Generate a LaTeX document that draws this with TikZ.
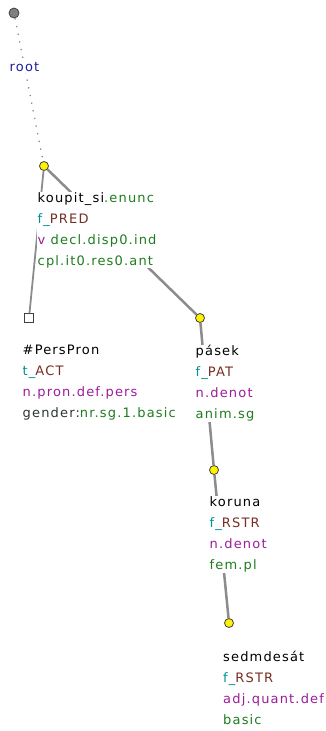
\documentclass[tikz,border=0pt]{standalone}
\usepackage{fontspec}
\setsansfont{DejaVu Sans}[LetterSpace=9]
\definecolor{rootc}{RGB}{30,30,160}
\definecolor{gramc}{RGB}{30,125,30}
\definecolor{tfac}{RGB}{0,145,145}
\definecolor{funcc}{RGB}{120,45,35}
\definecolor{posc}{RGB}{155,30,155}
\definecolor{attrc}{RGB}{45,55,45}
\definecolor{edgec}{RGB}{140,140,140}

\begin{document}
\begin{tikzpicture}[x=1pt, y=-1pt,
    tnode/.style={circle, draw=black!75, fill=yellow, minimum size=9, inner sep=0, line width=.8},
    lbl/.style={anchor=north west, align=left, fill=white, inner sep=.5,
        font=\sffamily\fontsize{13}{21}\selectfont},
    tedge/.style={draw=edgec, line width=2.5}]
    \useasboundingbox (0, 0) rectangle (326, 731);
    \def\tfa#1{\textcolor{tfac}{#1\_}}
    \def\fun#1{\textcolor{funcc}{#1}}

    % tree nodes
    \node[tnode, fill=black!50, minimum size=10] (root) at (14, 13) {};
    \node[tnode] (koupit) at (44, 166) {};
    \node[tnode, rectangle, fill=white, minimum size=9] (perspron) at (29, 318) {};
    \node[tnode] (pasek) at (200, 318) {};
    \node[tnode] (koruna) at (214, 470) {};
    \node[tnode] (sedmdesat) at (229, 623) {};

    % edges
    \draw[draw=edgec, line width=1.3, dash pattern=on 1.3 off 6.5] (root) -- (koupit);
    \draw[tedge, line width=1.8] (koupit) -- (perspron);
    \draw[tedge] (koupit) -- (pasek);
    \draw[tedge] (pasek) -- (koruna);
    \draw[tedge] (koruna) -- (sedmdesat);

    % labels
    \node[lbl] (root-t) at (9, 62) {\textcolor{rootc}{root}};
    \node[lbl] (koupit-t) at (37, 191.5) {koupit\_si\textcolor{gramc}{.enunc}\\
        \tfa{f}\fun{PRED}\\
        \textcolor{posc}{v} \textcolor{gramc}{decl.disp0.ind}\\
        \textcolor{gramc}{cpl.it0.res0.ant}};
    \node[lbl] (perspron-t) at (22, 344.5) {\#PersPron\\
        \tfa{t}\fun{ACT}\\
        \textcolor{posc}{n.pron.def.pers}\\
        \textcolor{attrc}{gender:}\textcolor{gramc}{nr.sg.1.basic}};
    \node[lbl] (pasek-t) at (195, 344.5) {pásek\\
        \tfa{f}\fun{PAT}\\
        \textcolor{posc}{n.denot}\\
        \textcolor{gramc}{anim.sg}};
    \node[lbl] (koruna-t) at (209, 496) {koruna\\
        \tfa{f}\fun{RSTR}\\
        \textcolor{posc}{n.denot}\\
        \textcolor{gramc}{fem.pl}};
    \node[lbl] (sedmdesat-t) at (222.5, 650) {sedmdesát\\
        \tfa{f}\fun{RSTR}\\
        \textcolor{posc}{adj.quant.def}\\
        \textcolor{gramc}{basic}};
\end{tikzpicture}
\end{document}
